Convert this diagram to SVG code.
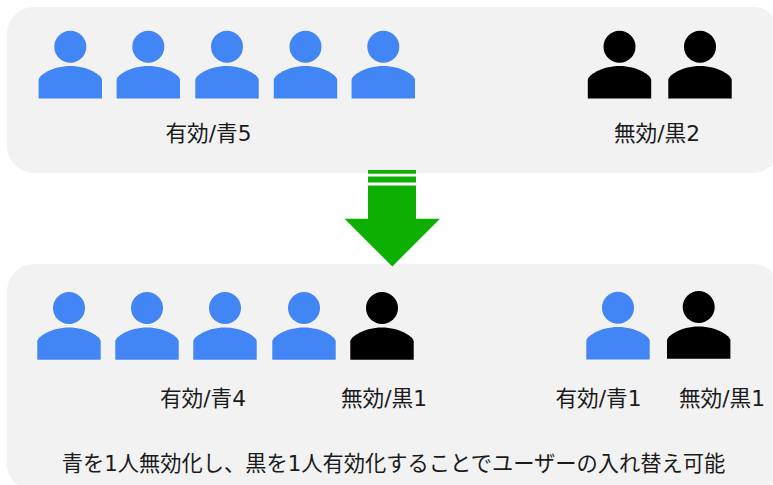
<svg xmlns="http://www.w3.org/2000/svg" width="773" height="485" viewBox="0 0 773 485">
<style>
.panel{fill:#f2f2f2}
.blue{fill:#4285f4}
.black{fill:#000}
.lbl{font-family:"DejaVu Sans","Noto Sans CJK JP",sans-serif;font-size:21.7px;fill:#1a1a1a;text-anchor:middle}
.note{font-size:21.25px}
</style>
<defs>
<g id="person">
<circle cx="0" cy="0" r="16"/>
<path d="M-31.7 51.7V33.2C-31.7 29 -18 19.4 0 19.4C18 19.4 31.7 29 31.7 33.2V51.7Z"/>
</g>
</defs>
<rect width="773" height="485" fill="#fff"/>
<g id="panel-top"><rect class="panel" x="7" y="7" width="773" height="166" rx="27"/></g>
<g id="panel-bottom"><rect class="panel" x="7" y="264" width="773" height="227" rx="27"/></g>
<g id="top-blue" class="blue">
<use href="#person" x="70.3" y="46.7"/>
<use href="#person" x="148.3" y="46.7"/>
<use href="#person" x="227" y="46.7"/>
<use href="#person" x="305.5" y="46.7"/>
<use href="#person" x="383.3" y="46.7"/>
</g>
<g id="top-black" class="black">
<use href="#person" x="619.5" y="46.7"/>
<use href="#person" x="700" y="46.7"/>
</g>
<g id="bottom-blue" class="blue">
<use href="#person" x="69" y="308"/>
<use href="#person" x="147" y="308"/>
<use href="#person" x="225" y="308"/>
<use href="#person" x="304" y="308"/>
<use href="#person" x="618" y="307.7"/>
</g>
<g id="bottom-black" class="black">
<use href="#person" x="382" y="308"/>
<use href="#person" x="698.7" y="307"/>
</g>
<g id="arrow" fill="#0daf03">
<rect x="368" y="170" width="48" height="3.7"/>
<rect x="368" y="176.5" width="48" height="6"/>
<path d="M368 185.5H416V218.7H440L392.3 266.5L344.5 218.7H368Z"/>
</g>
<g id="labels">
<text class="lbl" x="208.5" y="141">有効/青5</text>
<text class="lbl" x="657" y="141">無効/黒2</text>
<text class="lbl" x="203" y="406">有効/青4</text>
<text class="lbl" x="384" y="406">無効/黒1</text>
<text class="lbl" x="598.5" y="406">有効/青1</text>
<text class="lbl" x="722" y="406">無効/黒1</text>
<text class="lbl note" x="393.5" y="471">青を1人無効化し、黒を1人有効化することでユーザーの入れ替え可能</text>
</g>
</svg>
